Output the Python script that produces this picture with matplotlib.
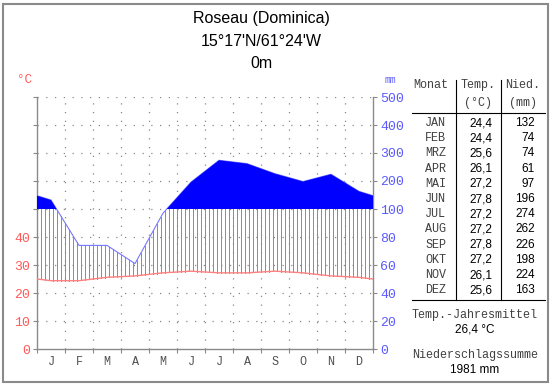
import numpy as np
import matplotlib
matplotlib.use("Agg")
import matplotlib.pyplot as plt
from matplotlib.patches import Rectangle

# climate data Roseau (Dominica)
months = ["J", "F", "M", "A", "M", "J", "J", "A", "S", "O", "N", "D"]
month_names = ["JAN", "FEB", "MRZ", "APR", "MAI", "JUN", "JUL", "AUG", "SEP", "OKT", "NOV", "DEZ"]
temp = [24.4, 24.4, 25.6, 26.1, 27.2, 27.8, 27.2, 27.2, 27.8, 27.2, 26.1, 25.6]
prec = [132, 74, 74, 61, 97, 196, 274, 262, 226, 198, 224, 163]
temp_labels = ["24,4", "24,4", "25,6", "26,1", "27,2", "27,8", "27,2", "27,2", "27,8", "27,2", "26,1", "25,6"]
mean_temp = "26,4 °C"
total_prec = "1981 mm"

RED = "#ff5a5a"
BLUE = "#5a5aff"
MONO = "Liberation Mono"
SANS = "Liberation Sans"


def to_scale(p):
    # 0-100 mm -> 0-50 units (2 mm per degree), above 100 mm: 100 mm per 10 units
    p = np.asarray(p, dtype=float)
    return np.where(p <= 100, p / 2.0, 50 + (p - 100) / 10.0)


# month centres plus both edges (edges = mean of Dec/Jan)
x = np.concatenate([[0], np.arange(12) + 0.5, [12]])
t_edge = (temp[0] + temp[-1]) / 2
p_edge = (prec[0] + prec[-1]) / 2
t = np.concatenate([[t_edge], temp, [t_edge]])
p = to_scale(np.concatenate([[p_edge], prec, [p_edge]]))

fig = plt.figure(figsize=(5.5, 3.84), dpi=100)
W, H = 550, 384
fig.patches.append(Rectangle((2.5 / W, 2.5 / H), 545 / W, 378 / H, transform=fig.transFigure,
                             fill=False, edgecolor="#8a8a8a", linewidth=1.5))

ax = fig.add_axes([37 / W, (H - 349) / H, 336 / W, 252 / H])
ax.set_xlim(0, 12)
ax.set_ylim(0, 90)

# grid
dots = dict(color="#888888", linewidth=0.9, linestyle=(0, (1, 6)))
for yv in range(10, 100, 10):
    ax.axhline(yv, zorder=0, **dots)
for xv in range(1, 12):
    ax.axvline(xv, zorder=0, **dots)

# humid hatch below 100 mm
xf = np.arange(1, 84) * 12 / 84
tf = np.interp(xf, x, t)
pf = np.minimum(np.interp(xf, x, p), 50)
for xi, lo, hi in zip(xf, tf, pf):
    if hi > lo:
        ax.plot([xi, xi], [lo, hi], color="#8080ff", linewidth=0.72, zorder=2)

# perhumid fill above 100 mm
ax.fill_between(x, 50, p, where=p > 50, interpolate=True, color="#0000ff", linewidth=0, zorder=3)
ax.plot(x, p, color="#7878ff", linewidth=0.8, zorder=2)
ax.plot(x, t, color="#ff8080", linewidth=1.0, zorder=4)

ax.spines["top"].set_visible(False)
for s in ["left", "right", "bottom"]:
    ax.spines[s].set_color("#8a8a8a")
    ax.spines[s].set_linewidth(1.0)

ax.set_xticks(range(13))
ax.set_xticklabels([])
ax.set_xticks(np.arange(12) + 0.5, minor=True)
ax.set_xticklabels(months, minor=True, fontfamily=MONO, fontsize=8.5, color="#505050")
ax.tick_params(axis="x", which="major", length=3, color="#8a8a8a")
ax.tick_params(axis="x", which="minor", length=0, pad=5)

ax.set_yticks(range(0, 91, 10))
ax.set_yticklabels(["0", "10", "20", "30", "40", "", "", "", "", ""],
                   fontfamily=MONO, fontsize=9.5, color=RED)
ax.tick_params(axis="y", length=3, color="#8a8a8a", pad=2)

ax2 = ax.twinx()
ax2.set_ylim(0, 90)
ax2.set_yticks(range(0, 91, 10))
ax2.set_yticklabels(["0", "20", "40", "60", "80", "100", "200", "300", "400", "500"],
                    fontfamily=MONO, fontsize=9.5, color=BLUE)
ax2.tick_params(axis="y", length=3, color="#8a8a8a", pad=2)
for s in ax2.spines.values():
    s.set_visible(False)


def ftext(px, py, s, **kw):
    fig.text(px / W, 1 - py / H, s, **kw)


# titles
ftext(261, 19, "Roseau (Dominica)", ha="center", va="center", fontfamily=SANS, fontsize=11.5)
ftext(261, 41, "15°17'N/61°24'W", ha="center", va="center", fontfamily=SANS, fontsize=11.5)
ftext(261, 63, "0m", ha="center", va="center", fontfamily=SANS, fontsize=11.5)
ftext(24, 80, "°C", ha="center", va="center", fontfamily=MONO, fontsize=9, color=RED)
ftext(390, 80, "mm", ha="center", va="center", fontfamily=MONO, fontsize=7, color=BLUE)

# table
mono = dict(fontfamily=MONO, fontsize=8.5, color="#404040", va="center")
sans = dict(fontfamily=SANS, fontsize=8.5, color="black", va="center")
ftext(431, 85, "Monat", ha="center", **mono)
ftext(478, 85, "Temp.", ha="center", **mono)
ftext(478, 103, "(°C)", ha="center", **mono)
ftext(523, 85, "Nied.", ha="center", **mono)
ftext(523, 103, "(mm)", ha="center", **mono)
for i in range(12):
    yy = 123 + i * 15.2
    ftext(446, yy, month_names[i], ha="right", **mono)
    ftext(492, yy, temp_labels[i], ha="right", **sans)
    ftext(535, yy, str(prec[i]), ha="right", **sans)

line_kw = dict(color="black", linewidth=0.8, transform=fig.transFigure)
fig.add_artist(plt.Line2D([456 / W, 456 / W], [1 - 80 / H, 1 - 300 / H], **line_kw))
fig.add_artist(plt.Line2D([501 / W, 501 / W], [1 - 80 / H, 1 - 300 / H], **line_kw))
fig.add_artist(plt.Line2D([412 / W, 545 / W], [1 - 113 / H, 1 - 113 / H], **line_kw))
fig.add_artist(plt.Line2D([412 / W, 545 / W], [1 - 300 / H, 1 - 300 / H], **line_kw))

ftext(475, 315, "Temp.-Jahresmittel", ha="center", **mono)
ftext(475, 330, mean_temp, ha="center", **sans)
ftext(475, 355, "Niederschlagssumme", ha="center", **mono)
ftext(475, 370, total_prec, ha="center", **sans)

fig.savefig("out.png", dpi=100)
